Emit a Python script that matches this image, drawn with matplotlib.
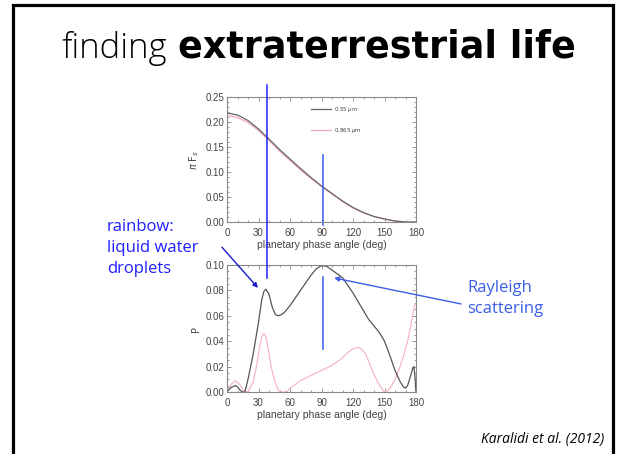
import numpy as np
import matplotlib
matplotlib.use('Agg')
from matplotlib import pyplot as plt
from matplotlib.patches import Rectangle
from matplotlib.lines import Line2D
from matplotlib.ticker import MultipleLocator, FormatStrFormatter

# phase angle grid for the flux panel (deg)
flux_angle = [0, 10, 20, 30, 40, 50, 60, 70, 80, 90, 100, 110, 120, 130, 140, 150, 160, 170, 180]
flux_055 = [0.218, 0.214, 0.203, 0.186, 0.166, 0.145, 0.126, 0.107, 0.089, 0.072, 0.057, 0.042, 0.029,
            0.019, 0.011, 0.006, 0.002, 0.000, 0.000]
flux_0865 = [0.213, 0.209, 0.199, 0.183, 0.163, 0.142, 0.123, 0.104, 0.087, 0.071, 0.056, 0.041, 0.028,
             0.018, 0.011, 0.006, 0.002, 0.000, 0.000]

# degree of polarization
pol_angle_055 = [0, 3, 5, 8, 10, 13, 15, 17, 20, 25, 30, 33, 35, 37, 40, 43, 46, 49, 52, 55, 60, 65, 70,
                 75, 80, 85, 90, 95, 100, 105, 110, 115, 120, 125, 130, 135, 140, 145, 150, 155, 160, 165,
                 168, 170, 172, 175, 177, 178, 179, 180]
pol_055 = [0.000, 0.003, 0.004, 0.005, 0.004, 0.001, 0.000, 0.000, 0.010, 0.030, 0.055, 0.072, 0.079,
           0.081, 0.077, 0.067, 0.061, 0.060, 0.061, 0.063, 0.068, 0.074, 0.080, 0.086, 0.092, 0.097,
           0.0995, 0.099, 0.096, 0.093, 0.090, 0.084, 0.078, 0.071, 0.064, 0.057, 0.052, 0.047, 0.040,
           0.029, 0.017, 0.008, 0.004, 0.003, 0.005, 0.013, 0.019, 0.020, 0.012, 0.000]

pol_angle_0865 = [0, 4, 8, 12, 16, 20, 25, 28, 31, 33, 35, 37, 39, 42, 45, 48, 50, 55, 58, 60, 65, 70, 75,
                  80, 85, 90, 95, 100, 105, 110, 115, 120, 125, 128, 132, 136, 140, 144, 148, 150, 153,
                  156, 160, 164, 168, 172, 175, 177, 179, 180]
pol_0865 = [0.000, 0.006, 0.009, 0.006, 0.001, 0.000, 0.008, 0.020, 0.035, 0.043, 0.046, 0.044, 0.035,
            0.020, 0.010, 0.003, 0.000, 0.000, 0.001, 0.003, 0.006, 0.009, 0.011, 0.013, 0.015, 0.017,
            0.019, 0.021, 0.024, 0.027, 0.031, 0.034, 0.035, 0.034, 0.030, 0.022, 0.014, 0.007, 0.002,
            0.000, 0.001, 0.004, 0.010, 0.018, 0.028, 0.040, 0.052, 0.062, 0.069, 0.070]

W, H = 617, 454
fig = plt.figure(figsize=(W / 100, H / 100), dpi=100)

txt_font = ['Open Sans', 'DejaVu Sans']
plot_font = ['Liberation Sans', 'DejaVu Sans']
axcol = '#888888'
labcol = '#444444'
blue = '#1f1fff'
rblue = '#3a5ee8'

# slide frame
fig.add_artist(Rectangle((13 / W, -0.05), 600 / W, 1.05 - 4.5 / H, transform=fig.transFigure,
                         fill=False, edgecolor='black', linewidth=2.3))

# title, two weights; sizes fitted to the slide's text extents
renderer = fig.canvas.get_renderer()
t1 = fig.text(62 / W, 1 - 58 / H, 'finding', fontsize=23, family=txt_font, fontweight='light',
              va='baseline', ha='left')
t2 = fig.text(178 / W, 1 - 58 / H, 'extraterrestrial life', fontsize=23, family=['DejaVu Sans'],
              fontweight='bold', va='baseline', ha='left')
for t, target in [(t1, 106), (t2, 397)]:
    w = t.get_window_extent(renderer).width
    t.set_fontsize(23 * target / w)


def style_axes(ax, ymax, ystep, yminor):
    ax.set_xlim(0, 180)
    ax.set_ylim(0, ymax)
    ax.xaxis.set_major_locator(MultipleLocator(30))
    ax.xaxis.set_minor_locator(MultipleLocator(10))
    ax.yaxis.set_major_locator(MultipleLocator(ystep))
    ax.yaxis.set_minor_locator(MultipleLocator(yminor))
    ax.yaxis.set_major_formatter(FormatStrFormatter('%.2f'))
    ax.tick_params(which='both', direction='in', top=True, right=True, colors=axcol,
                   labelcolor=labcol, labelsize=7, width=0.6, pad=2)
    ax.tick_params(axis='x', which='major', pad=4)
    ax.tick_params(which='major', length=3)
    ax.tick_params(which='minor', length=1.5)
    for lab in ax.get_xticklabels() + ax.get_yticklabels():
        lab.set_family(plot_font)
    for sp in ax.spines.values():
        sp.set_color(axcol)
        sp.set_linewidth(0.8)
    ax.set_xlabel('planetary phase angle (deg)', fontsize=7.5, color=labcol, family=plot_font, labelpad=2)


ax1 = fig.add_axes([227 / W, 1 - 222 / H, 189 / W, 125 / H])
ax1.plot(flux_angle, flux_0865, color='#f2a9b4', linewidth=0.9, label='0.865 $\\mu$m')
ax1.plot(flux_angle, flux_055, color='#666666', linewidth=0.9, label='0.55 $\\mu$m')
style_axes(ax1, 0.25, 0.05, 0.01)
ax1.set_ylabel('$\\pi$ F$_s$', fontsize=7, color=labcol, labelpad=3)
hnd, lab = ax1.get_legend_handles_labels()
ax1.legend(hnd[::-1], lab[::-1], loc='upper left', bbox_to_anchor=(0.42, 0.98), frameon=False,
           fontsize=4, labelspacing=2.2, handlelength=3.5, handletextpad=0.6,
           labelcolor=labcol)

ax2 = fig.add_axes([227 / W, 1 - 392 / H, 189 / W, 127 / H])
ax2.plot(pol_angle_0865, pol_0865, color='#f5b8c0', linewidth=0.9)
ax2.plot(pol_angle_055, pol_055, color='#555555', linewidth=0.9)
style_axes(ax2, 0.10, 0.02, 0.005)
ax2.set_ylabel('P', fontsize=7, color=labcol, labelpad=3)

# blue marker lines (rainbow angle spanning both panels, and 90 deg)
to_fig = fig.transFigure.inverted()
p_top = to_fig.transform(ax1.transData.transform((38, 0.274)))
p_bot = to_fig.transform(ax2.transData.transform((38, 0.0898)))
fig.add_artist(Line2D([p_top[0], p_bot[0]], [p_top[1], p_bot[1]], transform=fig.transFigure,
                      color=blue, linewidth=1.1))
ax1.plot([91, 91], [0.134, -0.006], color=rblue, linewidth=1.1, clip_on=False)
ax2.plot([91, 91], [0.0906, 0.034], color=rblue, linewidth=1.1, clip_on=False)

# annotations
ax2.annotate('', xy=(29.5, 0.082), xytext=(-4.8, 0.114), textcoords='data',
             arrowprops=dict(arrowstyle='-|>', color='#1a1acc', linewidth=1.0,
                             mutation_scale=7, shrinkA=0, shrinkB=0),
             annotation_clip=False)
ax2.annotate('', xy=(102, 0.0898), xytext=(223, 0.0693), textcoords='data',
             arrowprops=dict(arrowstyle='-|>', color=rblue, linewidth=1.0,
                             mutation_scale=7, shrinkA=0, shrinkB=0),
             annotation_clip=False)

fig.text(107 / W, 1 - 248 / H, 'rainbow:\nliquid water\ndroplets', fontsize=12, family=txt_font,
         color=blue, va='center', ha='left', linespacing=1.4)
fig.text(467 / W, 1 - 298.5 / H, 'Rayleigh\nscattering', fontsize=12, family=txt_font,
         color=rblue, va='center', ha='left', linespacing=1.4)

fig.text(604 / W, 1 - 440 / H, 'Karalidi et al. (2012)', fontsize=10, family=txt_font,
         style='italic', ha='right', va='center')

fig.savefig('out.png', dpi=100)
